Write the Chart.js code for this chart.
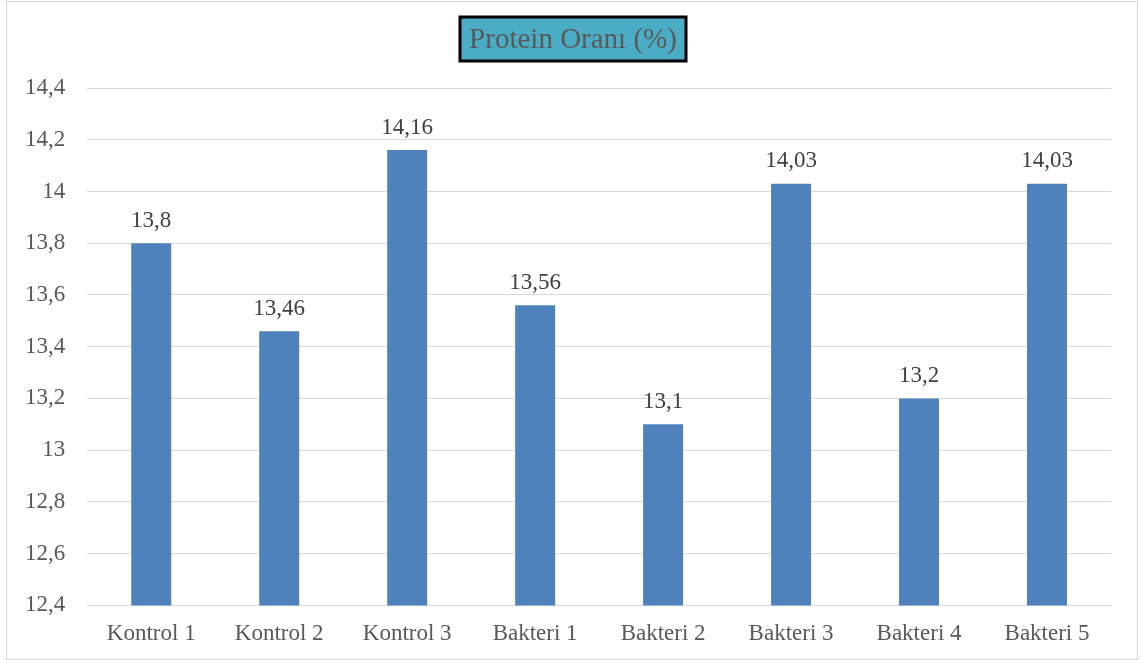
<!DOCTYPE html>
<html>
<head>
<meta charset="utf-8">
<script src="https://cdn.jsdelivr.net/npm/chart.js@4"></script>
<style>
  html, body { margin: 0; padding: 0; background: #fff; }
  #wrap { width: 1141px; height: 663px; }
</style>
</head>
<body>
<div id="wrap"><canvas id="chart" width="1141" height="663"></canvas></div>
<script>
const categories = ['Kontrol 1', 'Kontrol 2', 'Kontrol 3', 'Bakteri 1', 'Bakteri 2', 'Bakteri 3', 'Bakteri 4', 'Bakteri 5'];
const proteinValues = [13.8, 13.46, 14.16, 13.56, 13.1, 14.03, 13.2, 14.03];
const titleText = 'Protein Oranı (%)';

const serif = '"Liberation Serif", "Times New Roman", serif';
const fmt = v => String(Math.round(v * 100) / 100).replace('.', ',');

// outer frame + boxed title
const framePlugin = {
  id: 'frame',
  beforeDraw(chart) {
    const ctx = chart.ctx;
    ctx.save();
    ctx.strokeStyle = '#d9d9d9';
    ctx.lineWidth = 1;
    ctx.strokeRect(6.5, 1.5, 1131, 658);
    ctx.restore();
  },
  afterDraw(chart) {
    const ctx = chart.ctx;
    ctx.save();
    ctx.font = '29px ' + serif;
    const w = ctx.measureText(titleText).width;
    const cx = 573;
    const bx = Math.round(cx - w / 2 - 9), by = 17, bw = Math.round(w + 18), bh = 44;
    ctx.fillStyle = '#4bacc6';
    ctx.fillRect(bx, by, bw, bh);
    ctx.strokeStyle = '#000';
    ctx.lineWidth = 3;
    ctx.strokeRect(bx, by, bw, bh);
    ctx.fillStyle = '#595959';
    ctx.textAlign = 'center';
    ctx.textBaseline = 'middle';
    ctx.fillText(titleText, cx, by + bh / 2 + 1);
    ctx.restore();
  }
};

// value labels above bars
const valueLabels = {
  id: 'valueLabels',
  afterDatasetsDraw(chart) {
    const ctx = chart.ctx;
    const meta = chart.getDatasetMeta(0);
    ctx.save();
    ctx.font = '23px ' + serif;
    ctx.fillStyle = '#404040';
    ctx.textAlign = 'center';
    ctx.textBaseline = 'bottom';
    meta.data.forEach((bar, i) => {
      ctx.fillText(fmt(proteinValues[i]), bar.x, bar.y - 11);
    });
    ctx.restore();
  }
};

new Chart(document.getElementById('chart'), {
  type: 'bar',
  data: {
    labels: categories,
    datasets: [{
      data: proteinValues,
      backgroundColor: '#4f81bd',
      borderWidth: 0,
      barPercentage: 1,
      categoryPercentage: 0.3125
    }]
  },
  options: {
    responsive: false,
    animation: false,
    layout: { padding: { top: 88, left: 3, right: 30, bottom: 0 } },
    plugins: {
      legend: { display: false },
      tooltip: { enabled: false }
    },
    scales: {
      x: {
        grid: { display: false, drawTicks: false },
        border: { display: true, color: '#d9d9d9', width: 1 },
        ticks: { color: '#595959', font: { family: serif, size: 23 }, padding: 15 }
      },
      y: {
        min: 12.4,
        max: 14.4,
        grid: { color: '#d9d9d9', drawTicks: false },
        border: { display: false },
        ticks: {
          stepSize: 0.2,
          color: '#595959',
          font: { family: serif, size: 23 },
          padding: 22,
          callback: v => fmt(v)
        }
      }
    }
  },
  plugins: [framePlugin, valueLabels]
});
</script>
</body>
</html>
